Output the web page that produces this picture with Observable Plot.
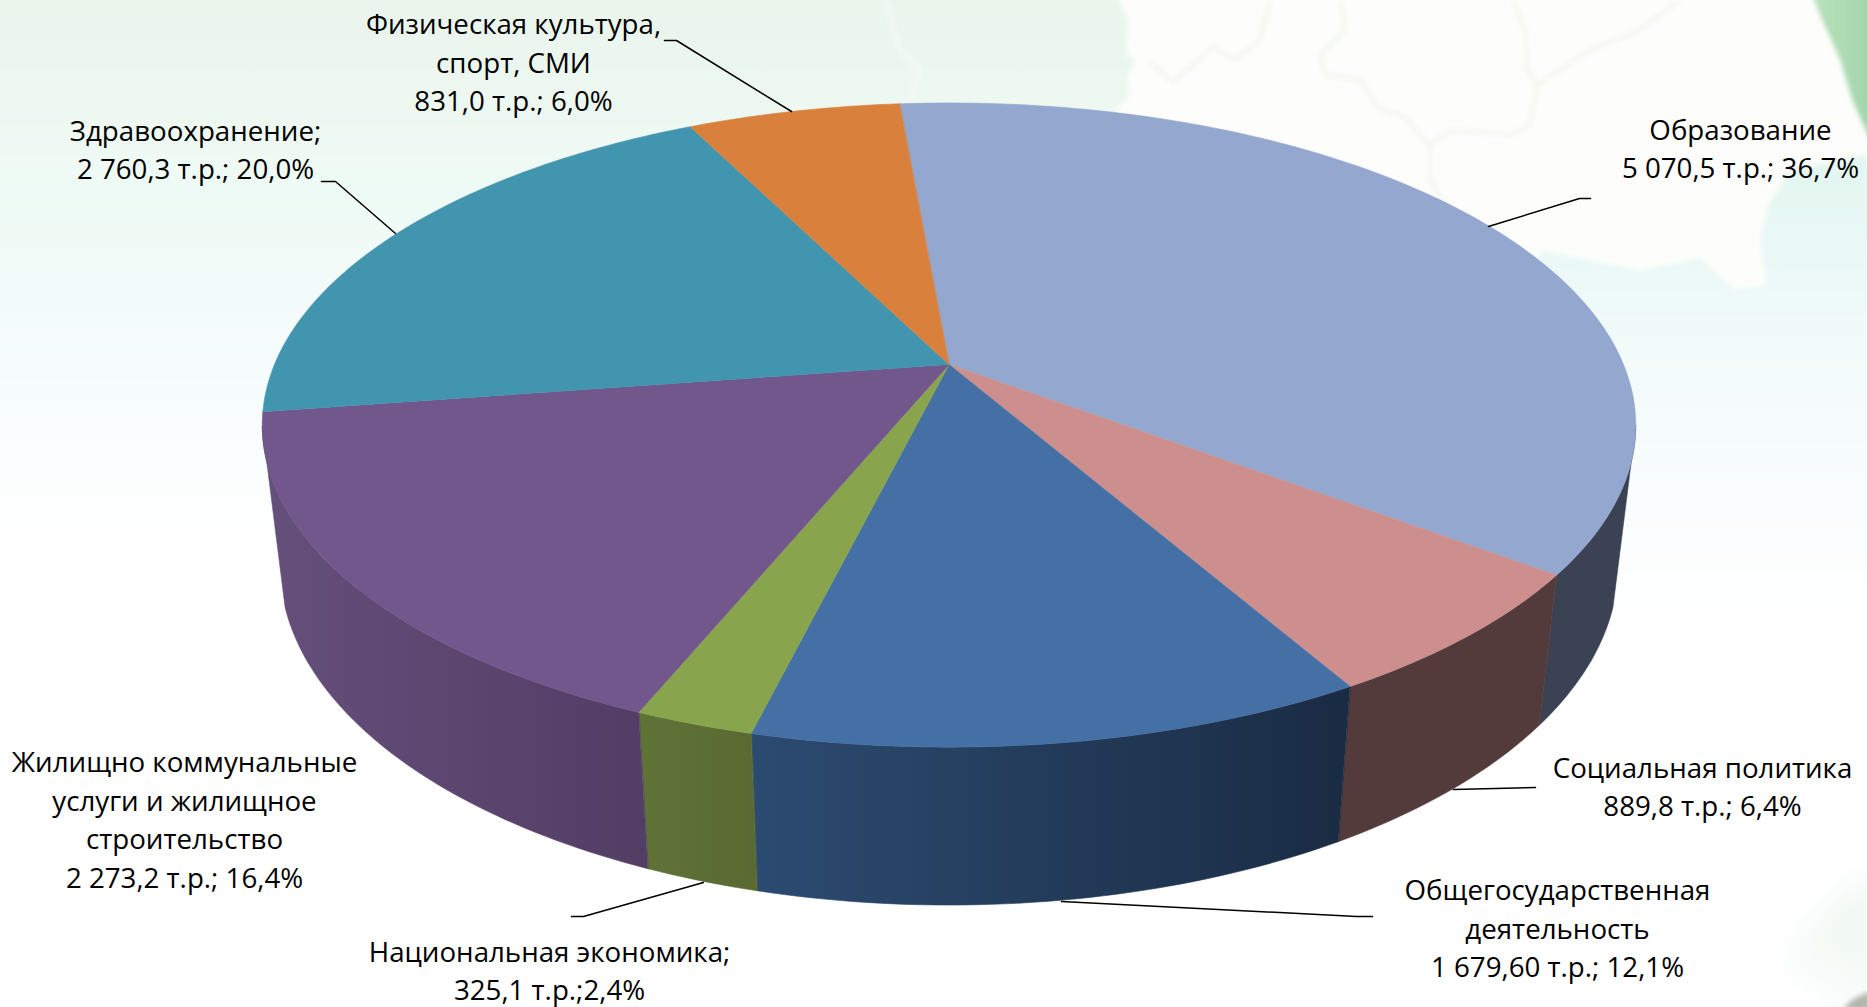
<!DOCTYPE html>
<html lang="ru">
<head>
<meta charset="utf-8">
<title>Расходы бюджета</title>
<script src="https://cdn.jsdelivr.net/npm/d3@7"></script>
<script src="https://cdn.jsdelivr.net/npm/@observablehq/plot@0.6"></script>
<style>
html,body{margin:0;padding:0;background:#fff;overflow:hidden}
#stage{position:relative;width:1867px;height:1007px;overflow:hidden}
#bg{position:absolute;left:0;top:0}
#chart{position:absolute;left:0;top:0}
#chart svg{display:block}
</style>
</head>
<body>
<div id="stage">
<svg id="bg" width="1867" height="1007" viewBox="0 0 1867 1007" aria-hidden="true">
  <defs>
    <linearGradient id="bgLeft" x1="0" y1="0" x2="0" y2="1">
      <stop offset="0" stop-color="#e9f5eb"/><stop offset="0.35" stop-color="#eefaf4"/>
      <stop offset="0.65" stop-color="#f5fcfc"/><stop offset="1" stop-color="#ffffff"/>
    </linearGradient>
    <linearGradient id="bgCyan" x1="0" y1="0" x2="0" y2="1">
      <stop offset="0" stop-color="#e2f6f0"/><stop offset="0.45" stop-color="#f3fbfb"/><stop offset="1" stop-color="#ffffff"/>
    </linearGradient>
    <linearGradient id="bgGreen" x1="0" y1="0" x2="1" y2="0">
      <stop offset="0" stop-color="#b9e2bd"/><stop offset="1" stop-color="#9fd3a8"/>
    </linearGradient>
    <linearGradient id="bgCorner" x1="0" y1="1" x2="1" y2="0">
      <stop offset="0.35" stop-color="#ffffff"/><stop offset="0.75" stop-color="#eef7f1"/><stop offset="1" stop-color="#fafdfb"/>
    </linearGradient>
    <filter id="soft" x="-5%" y="-5%" width="110%" height="110%"><feGaussianBlur stdDeviation="2.5"/></filter>
    <filter id="softer" x="-20%" y="-20%" width="140%" height="140%"><feGaussianBlur stdDeviation="16"/></filter>
  </defs>
  <rect width="1867" height="1007" fill="#ffffff"/>
  <g filter="url(#soft)">
    <path d="M-10-10H1115L1128 20 1127 55 1136 60 1127 78 1130 95 1118 108 1105 540H-10Z" fill="url(#bgLeft)"/>
    <path d="M1115-10H1815L1840 60 1852 100 1867 140V155L1790 170 1768 205 1760 240 1766 285 1735 290 1700 258 1640 270 1600 262 1540 250 1480 260 1100 240 1118 108 1130 95 1127 78 1136 60 1127 55 1128 20Z" fill="#fdfefb"/>
    <path d="M1540 250L1600 262 1640 270 1700 258 1735 290 1766 285 1760 240 1768 205 1790 170 1867 155 1880 620H1440Z" fill="url(#bgCyan)"/>
    <path d="M1810-10L1822 20 1840 60 1852 100 1870 140 1880-10Z" fill="url(#bgGreen)"/>
  </g>
  <path d="M1690 1020L1810 925 1880 860V1020Z" fill="url(#bgCorner)" filter="url(#softer)"/>
  <path d="M1842 1010L1852 1000 1870 991V1010Z" fill="#b5b5b0" filter="url(#soft)"/>
  <g fill="none" stroke="#eef1e6" stroke-width="2.5" filter="url(#soft)">
    <path d="M1150 62L1173 82 1213 47 1235 60 1260 40 1270 0"/>
    <path d="M1340 0L1345 30 1320 55 1325 75 1360 80 1380 110 1402 115 1430 145"/>
    <path d="M1513 0L1525 30 1527 70 1537 85M1680 0L1640 30 1590 50 1537 85 1530 125 1510 135 1450 130 1430 145 1430 180 1445 205"/>
  </g>
  <path d="M885 0L900 50 920 70 910 100" fill="none" stroke="#f6fcf8" stroke-width="3" filter="url(#soft)"/>
</svg>
<div id="chart"></div>
</div>
<script>
// Data
const categories = ["Образование", "Социальная политика", "Общегосударственная деятельность", "Национальная экономика", "Жилищно коммунальные услуги и жилищное строительство", "Здравоохранение", "Физическая культура, спорт, СМИ"];
const values = [5070.5, 889.8, 1679.6, 325.1, 2273.2, 2760.3, 831.0];
const labels = [
  "Образование\n5 070,5 т.р.; 36,7%",
  "Социальная политика\n889,8 т.р.; 6,4%",
  "Общегосударственная\nдеятельность\n1 679,60 т.р.; 12,1%",
  "Национальная экономика;\n325,1 т.р.;2,4%",
  "Жилищно коммунальные\nуслуги и жилищное\nстроительство\n2 273,2 т.р.; 16,4%",
  "Здравоохранение;\n2 760,3 т.р.; 20,0%",
  "Физическая культура,\nспорт, СМИ\n831,0 т.р.; 6,0%"
];
const topColors = ["#94a7ce", "#cd8f8e", "#4570a5", "#88a44d", "#71578b", "#4295af", "#d8803c"];

// Layout
const W = 1867, H = 1007;
const view = {cx: 948.5, cy: 364, A: 674.5, B: 310.7, k: 0.188, m: 0.0255, c: 142};
const startDeg = -5;
const wallTop = [101, 259], wallBottom = [107.5, 252.5];
const labelAt = [[1740,146],[1702,784],[1557,926],[549,968],[184,817],[195,147],[513,60]];
const leaders = [
  [[1488,226],[1579,198],[1590,198]],
  [[1453,789],[1535,787]],
  [[1061,901],[1356,916],[1372,916]],
  [[703,882],[583,916],[571,916]],
  [],
  [[395,233],[335,181],[321,181]],
  [[791,111],[676,40],[664,40]]
];

const rad = d => d * Math.PI / 180;
function project(deg, z) {
  const u = Math.sin(rad(deg)), v = -Math.cos(rad(deg));
  const w = 1 - view.k * v + view.m * z;
  return {x: view.cx + view.A * u / w, y: view.cy + (view.B * v + view.c * z) / w};
}
const arc = (a, b, z) => {
  const n = Math.max(2, Math.ceil(Math.abs(b - a)));
  return d3.range(n + 1).map(i => project(a + (b - a) * i / n, z));
};

const total = d3.sum(values);
let running = startDeg;
const slices = categories.map((name, i) => {
  const a = running, b = running + values[i] / total * 360;
  running = b;
  return {name, i, a, b, color: topColors[i]};
});

// Wall colours: constant, or left-to-right gradients in chart pixels
const wallFills = ["#3a4254", "#533b3c", "url(#wallGov)", "url(#wallNat)", "url(#wallHouse)", null, null];
const gradients = [
  {id: "wallGov", x1: 750, x2: 1340, from: "#2c4b71", to: "#1a2c44"},
  {id: "wallNat", x1: 640, x2: 760, from: "#607337", to: "#5a6931"},
  {id: "wallHouse", x1: 268, x2: 650, from: "#654f7b", to: "#523d65"}
];
function defsMark() {
  const defs = d3.create("svg:defs");
  for (const g of gradients) {
    const lg = defs.append("linearGradient").attr("id", g.id).attr("gradientUnits", "userSpaceOnUse")
      .attr("x1", g.x1).attr("x2", g.x2).attr("y1", 0).attr("y2", 0);
    lg.append("stop").attr("offset", 0).attr("stop-color", g.from);
    lg.append("stop").attr("offset", 1).attr("stop-color", g.to);
  }
  return defs.node();
}

const wallMarks = slices.flatMap(s => {
  if (!wallFills[s.i]) return [];
  const ta = Math.max(s.a, wallTop[0]), tb = Math.min(s.b, wallTop[1]);
  const ba = Math.max(s.a, wallBottom[0]), bb = Math.min(s.b, wallBottom[1]);
  const pts = [...arc(ta, tb, 0), ...arc(bb, ba, 1)];
  return [Plot.line(pts, {x: "x", y: "y", fill: wallFills[s.i], stroke: wallFills[s.i], strokeWidth: 0.6, curve: "linear-closed"})];
});
const topMarks = slices.map(s => {
  const pts = [{x: view.cx, y: view.cy}, ...arc(s.a, s.b, 0)];
  return Plot.line(pts, {x: "x", y: "y", fill: s.color, stroke: s.color, strokeWidth: 0.6, curve: "linear-closed"});
});
const leaderMarks = leaders.filter(l => l.length).map(l =>
  Plot.line(l.map(([x, y]) => ({x, y})), {x: "x", y: "y", stroke: "#000", strokeWidth: 1.5, curve: "linear"})
);
const labelRows = labels.map((text, i) => ({text, x: labelAt[i][0], y: labelAt[i][1]}));

const plot = Plot.plot({
  width: W, height: H, margin: 0,
  style: {background: "transparent"},
  x: {domain: [0, W], range: [0, W], axis: null},
  y: {domain: [0, H], range: [0, H], axis: null},
  marks: [
    defsMark,
    ...wallMarks,
    ...topMarks,
    ...leaderMarks,
    Plot.text(labelRows, {
      x: "x", y: "y", text: "text", fill: "#000", fontSize: 27.7,
      fontFamily: "'Open Sans', 'Noto Sans', sans-serif",
      lineHeight: 1.39, lineAnchor: "middle", textAnchor: "middle"
    })
  ]
});
document.getElementById("chart").appendChild(plot);
</script>
</body>
</html>
